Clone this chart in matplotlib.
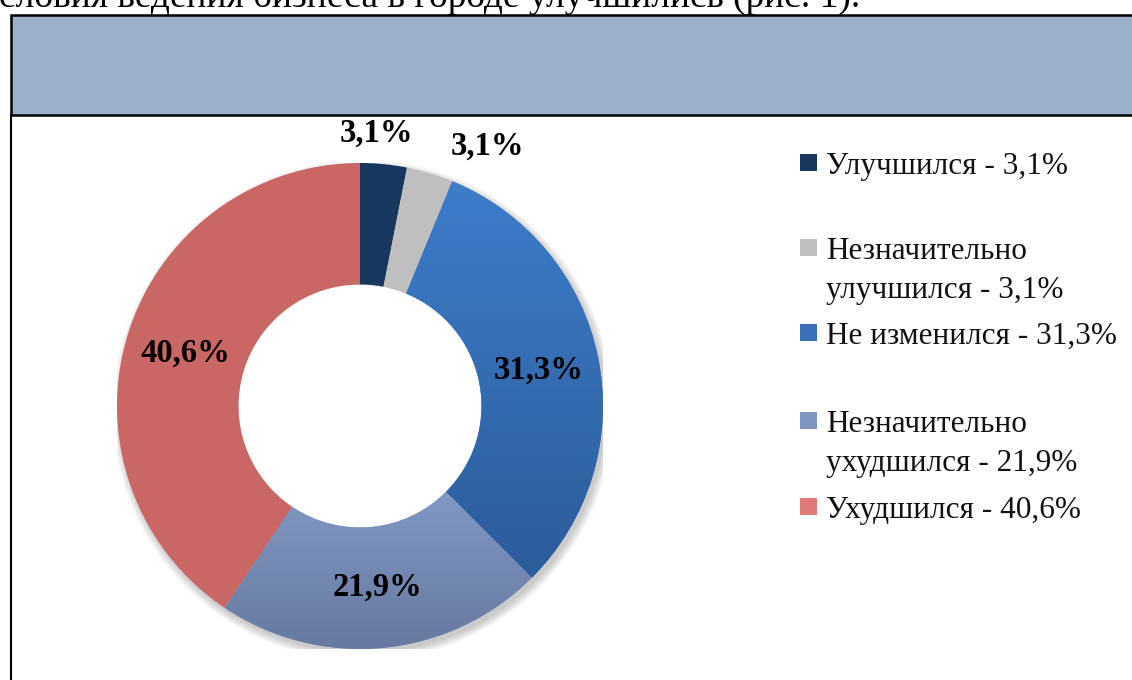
import numpy as np
import matplotlib.pyplot as plt
from matplotlib.patches import Rectangle
from matplotlib.lines import Line2D
from matplotlib.colors import LinearSegmentedColormap

# survey answers: how business conditions in the city changed
categories = ["Улучшился", "Незначительно\nулучшился", "Не изменился",
              "Незначительно\nухудшился", "Ухудшился"]
shares = [3.1, 3.1, 31.3, 21.9, 40.6]
value_labels = ["3,1%", "3,1%", "31,3%", "21,9%", "40,6%"]
legend_labels = ["Улучшился - 3,1%", "Незначительно\nулучшился - 3,1%",
                 "Не изменился - 31,3%", "Незначительно\nухудшился - 21,9%",
                 "Ухудшился - 40,6%"]
caption = "словия ведения бизнеса в городе улучшились (рис. 1)."

# top / bottom colour of each slice (vertical gradient like the office chart)
top_colors = ["#17375E", "#BFBFBF", "#3D7DCA", "#8EA9D8", "#C96765"]
bottom_colors = ["#17375E", "#BFBFBF", "#2C5C9A", "#66789F", "#C96765"]
legend_colors = ["#17375E", "#BFBFBF", "#3870BA", "#7F96C2", "#E07A78"]

W, H = 1132, 680
SERIF = ["Liberation Serif", "DejaVu Serif"]


def px(x, y):
    """pixel position (from top-left) -> figure fraction"""
    return x / W, 1 - y / H


fig = plt.figure(figsize=(W / 100, H / 100), dpi=100)

# caption line cut at the top of the page
fig.text(*px(-1, 7), caption, family=SERIF, fontsize=27, va="baseline")

# header band and frame line
fig.patches.append(Rectangle(px(11, 115), 1.1, 100 / H, transform=fig.transFigure,
                             facecolor="#9DB0C9", edgecolor="black", linewidth=1.8))
fig.lines.append(Line2D([11 / W, 11 / W], [0, 1 - 115 / H], transform=fig.transFigure,
                        color="black", linewidth=1.5))

# donut, centre at (360, 406) px, radius 243 px
cx, cy, R = 360, 406, 243
ax = fig.add_axes([(cx - R) / W, 1 - (cy + R) / H, 2 * R / W, 2 * R / H])
ax.set_axis_off()

# soft shadow under the ring
for i in range(6):
    ax.add_patch(plt.Circle((0.012, -0.018), 1.0 + i * 0.006, color="black",
                            alpha=0.035, zorder=0, linewidth=0))

wedges, _ = ax.pie(shares, startangle=90, counterclock=False, radius=1,
                   colors=top_colors, wedgeprops=dict(width=0.5, edgecolor="none"))

for w, c_top, c_bot in zip(wedges, top_colors, bottom_colors):
    if c_top == c_bot:
        continue
    v = w.get_path().vertices
    x0, x1 = v[:, 0].min(), v[:, 0].max()
    y0, y1 = v[:, 1].min(), v[:, 1].max()
    cmap = LinearSegmentedColormap.from_list("g", [c_bot, c_top])
    grad = np.linspace(1, 0, 256).reshape(-1, 1)
    im = ax.imshow(grad, cmap=cmap, extent=[x0, x1, y0, y1], aspect="auto",
                   zorder=w.get_zorder() + 0.1, interpolation="bilinear")
    im.set_clip_path(w)

# inner white hole over the shadow
ax.add_patch(plt.Circle((0, 0), 0.5, color="white", zorder=0.5, linewidth=0))

# value labels: inside the ring for big slices, outside for the thin ones
label_radius = [1.125, 1.19, 0.75, 0.75, 0.75]
label_turn = [2.2, -9.5, 0, 0, 0]
cum = np.cumsum([0] + shares)
total = cum[-1]
for i, txt in enumerate(value_labels):
    mid = 90 - (cum[i] + shares[i] / 2) / total * 360 + label_turn[i]
    r = label_radius[i]
    ax.text(r * np.cos(np.radians(mid)), r * np.sin(np.radians(mid)), txt,
            ha="center", va="center", family=SERIF, fontweight="bold",
            fontsize=23.5, zorder=5)

ax.set_xlim(-1, 1)
ax.set_ylim(-1, 1)
ax.set_aspect("equal")

# legend drawn by hand: square + text lines (baselines in px)
legend_base = [174, 259, 344, 432, 518]
line_step = 39
for lbl, col, y in zip(legend_labels, legend_colors, legend_base):
    fig.patches.append(Rectangle(px(800, y - 3), 17 / W, 17 / H,
                                 transform=fig.transFigure, facecolor=col,
                                 edgecolor="none"))
    for k, line in enumerate(lbl.split("\n")):
        fig.text(*px(826, y + k * line_step), line, family=SERIF, fontsize=22.5,
                 va="baseline", color="#111111")

fig.savefig("out.png", dpi=100)
